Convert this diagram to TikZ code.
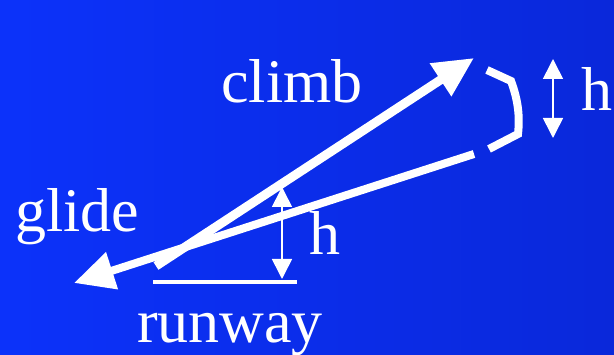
\documentclass[tikz,border=0pt]{standalone}
\usepackage{fontspec}
\setmainfont{Liberation Serif}
\usetikzlibrary{arrows.meta}
\definecolor{skyleft}{RGB}{12,50,250}
\definecolor{skyright}{RGB}{10,40,218}

\begin{document}
\begin{tikzpicture}[x=1pt, y=-1pt, font=\fontsize{62}{62}\selectfont,
  flight/.style={white, line width=9pt, -{Triangle[length=40pt,width=37pt]}},
  span/.style={white, line width=1.6pt, {Triangle[length=20pt,width=20pt]}-{Triangle[length=20pt,width=20pt]}},
  lbl/.style={text=white, anchor=base, inner sep=0pt}]
% sky
\shade[left color=skyleft, right color=skyright] (0,0) rectangle (614,355);
\useasboundingbox (0,0) rectangle (614,355);
% end points
\coordinate (takeoff) at (156,266);
\coordinate (top) at (474,58);
\coordinate (glidetop) at (474,154);
\coordinate (land) at (74,283);
\coordinate (rwyL) at (153,282);
\coordinate (rwyR) at (297,282);
\coordinate (hlow) at (282,279);
\coordinate (hhigh) at (282,187);
\coordinate (gapup) at (553,59);
\coordinate (gapdn) at (553,138);
% climb and glide
\draw[flight] (takeoff) -- (top);
\draw[flight, line width=8pt] (glidetop) -- (land);
% turn at the top
\draw[white, line width=8pt, line join=miter]
  (487,70) -- (511,81) .. controls (518,100) and (520,116) .. (518,134) -- (489,149);
% runway and heights
\draw[white, line width=4pt] (rwyL) -- (rwyR);
\draw[span] (hlow) -- (hhigh);
\draw[span] (gapup) -- (gapdn);
% labels
\node[lbl] (climb) at (292,103) {climb};
\node[lbl] (glide) at (77,232) {glide};
\node[lbl] (runway) at (230,343) {runway};
\node[lbl] (hmid) at (325,255) {h};
\node[lbl] (hright) at (597,111) {h};
\end{tikzpicture}
\end{document}
